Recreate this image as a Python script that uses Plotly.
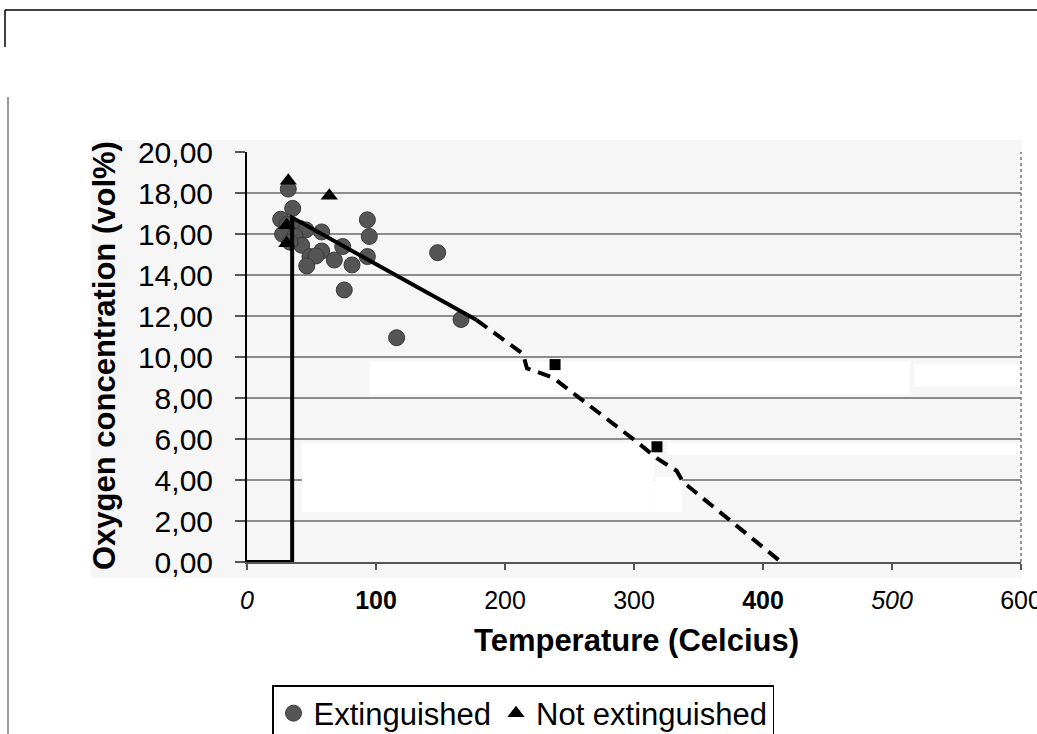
import plotly.graph_objects as go

# ---------------- data ----------------
temp_ext = [32, 35.4, 26.1, 31.2, 41.1, 45.7, 27.6, 37.2, 57.9, 93.3, 94.8, 42.4,
            57.9, 74.2, 48.8, 53.5, 46.3, 67.7, 81.4, 93.3, 75.4, 147.8, 116, 165.9, 33.3]
o2_ext = [18.19, 17.25, 16.72, 16.48, 16.27, 16.2, 15.99, 15.9, 16.1, 16.69, 15.88, 15.45,
          15.17, 15.39, 14.9, 14.93, 14.44, 14.73, 14.49, 14.9, 13.27, 15.09, 10.94, 11.83, 15.6]

temp_not = [32, 63.8, 30.8, 30.8]
o2_not = [18.6, 17.86, 16.43, 15.55]

temp_sq = [238.8, 317.8]
o2_sq = [9.63, 5.62]

trend_x = [0, 35, 35, 178]
trend_y = [0, 0, 16.8, 11.8]

extrap_x = [178, 214, 217, 237, 302, 318, 333, 338, 414]
extrap_y = [11.8, 10.15, 9.45, 9.0, 5.87, 5.05, 4.45, 3.9, 0]

x_tickvals = [0, 100, 200, 300, 400, 500, 600]
x_ticktext = ["<i>0</i>", "<b>100</b>", "200", "300", "<b>400</b>", "<i>500</i>", "600"]
y_tickvals = [0, 2, 4, 6, 8, 10, 12, 14, 16, 18, 20]
y_ticktext = ["0,00", "2,00", "4,00", "6,00", "8,00", "10,00", "12,00", "14,00", "16,00", "18,00", "20,00"]

x_title = "Temperature (Celcius)"
y_title = "Oxygen concentration (vol%)"
name_ext = "Extinguished"
name_not = "Not extinguished"

FONT = "Liberation Sans, Arial, sans-serif"
BG = "#f6f6f6"

fig = go.Figure()

fig.add_trace(go.Scatter(
    x=temp_ext, y=o2_ext, mode="markers", name=name_ext,
    marker=dict(symbol="circle", size=16, color="#555555", line=dict(width=1, color="#3a3a3a")),
))
fig.add_trace(go.Scatter(
    x=trend_x, y=trend_y, mode="lines", showlegend=False,
    line=dict(color="black", width=4),
))
fig.add_trace(go.Scatter(
    x=extrap_x, y=extrap_y, mode="lines", showlegend=False,
    line=dict(color="black", width=4, dash="13px,8px"),
))
fig.add_trace(go.Scatter(
    x=temp_not, y=o2_not, mode="markers", name=name_not,
    marker=dict(symbol="triangle-up", size=15, color="black"),
))
fig.add_trace(go.Scatter(
    x=temp_sq, y=o2_sq, mode="markers", showlegend=False,
    marker=dict(symbol="square", size=11, color="black"),
))

L, R, T, B = 247, 16, 152, 172
W, H = 1037, 734
pw, ph = W - L - R, H - T - B


def px(xp):
    return (xp - L) / pw


def py(yp):
    return (H - B - yp) / ph


shapes = []
# light grey chart area (extends under the tick labels)
shapes.append(dict(type="rect", xref="paper", yref="paper", layer="below",
                   x0=px(91), x1=px(1022), y0=py(578), y1=py(140),
                   fillcolor=BG, line=dict(width=0)))
# white scan patches (between grid and data)
for x0, x1, y0, y1 in [(95, 514, 8.17, 9.78), (517, 598, 8.56, 9.63),
                       (42.6, 316, 2.44, 5.82), (316, 337, 2.44, 4.16),
                       (326, 600, 5.23, 5.82)]:
    shapes.append(dict(type="rect", xref="x", yref="y", layer="between",
                       x0=x0, x1=x1, y0=y0, y1=y1,
                       fillcolor="white", line=dict(width=0)))
# right dotted border
shapes.append(dict(type="line", xref="paper", yref="paper", x0=1, x1=1, y0=0, y1=1,
                   line=dict(color="#777777", width=1.5, dash="dot")))
# scan frame lines
shapes.append(dict(type="line", xref="paper", yref="paper",
                   x0=px(5), x1=px(1037), y0=py(10), y1=py(10),
                   line=dict(color="black", width=1.5)))
shapes.append(dict(type="line", xref="paper", yref="paper",
                   x0=px(5), x1=px(5), y0=py(10), y1=py(47),
                   line=dict(color="black", width=1.5)))
shapes.append(dict(type="line", xref="paper", yref="paper",
                   x0=px(8), x1=px(8), y0=py(97), y1=py(734),
                   line=dict(color="#777777", width=1.5)))

annotations = [
    dict(text="<b>" + x_title + "</b>", xref="paper", yref="paper",
         x=px(636), y=py(640), xanchor="center", yanchor="middle", showarrow=False,
         font=dict(family=FONT, size=31, color="black")),
    dict(text="<b>" + y_title + "</b>", xref="paper", yref="paper",
         x=px(104), y=py(356), xanchor="center", yanchor="middle", showarrow=False,
         textangle=-90, font=dict(family=FONT, size=31, color="black")),
]

fig.update_layout(
    width=W, height=H,
    margin=dict(l=L, r=R, t=T, b=B, autoexpand=False),
    paper_bgcolor="white",
    plot_bgcolor=BG,
    font=dict(family=FONT, color="black"),
    shapes=shapes,
    annotations=annotations,
    legend=dict(
        orientation="h", x=px(272), y=py(685), xanchor="left", yanchor="top",
        bgcolor="white", bordercolor="black", borderwidth=1.5,
        font=dict(family=FONT, size=31, color="black"),
        itemwidth=30,
    ),
    xaxis=dict(
        range=[0, 600], tickmode="array", tickvals=x_tickvals, ticktext=x_ticktext,
        showgrid=False, zeroline=False, showline=True, linecolor="#555555", linewidth=1.5,
        ticks="outside", ticklen=6, tickcolor="#555555", tickwidth=1.5,
        ticklabelstandoff=9, ticklabeloverflow="allow",
        tickfont=dict(family=FONT, size=25, color="black"),
    ),
    yaxis=dict(
        range=[0, 20], tickmode="array", tickvals=y_tickvals, ticktext=y_ticktext,
        showgrid=True, gridcolor="#8c8c8c", gridwidth=1.5,
        zeroline=False, showline=True, linecolor="black", linewidth=2,
        ticks="outside", ticklen=10, tickcolor="#555555", tickwidth=1.5,
        ticklabelstandoff=16,
        tickfont=dict(family=FONT, size=30, color="black"),
    ),
)

fig.write_html("out.html", config={"displayModeBar": False},
               post_script="document.body.style.margin='0px';")
